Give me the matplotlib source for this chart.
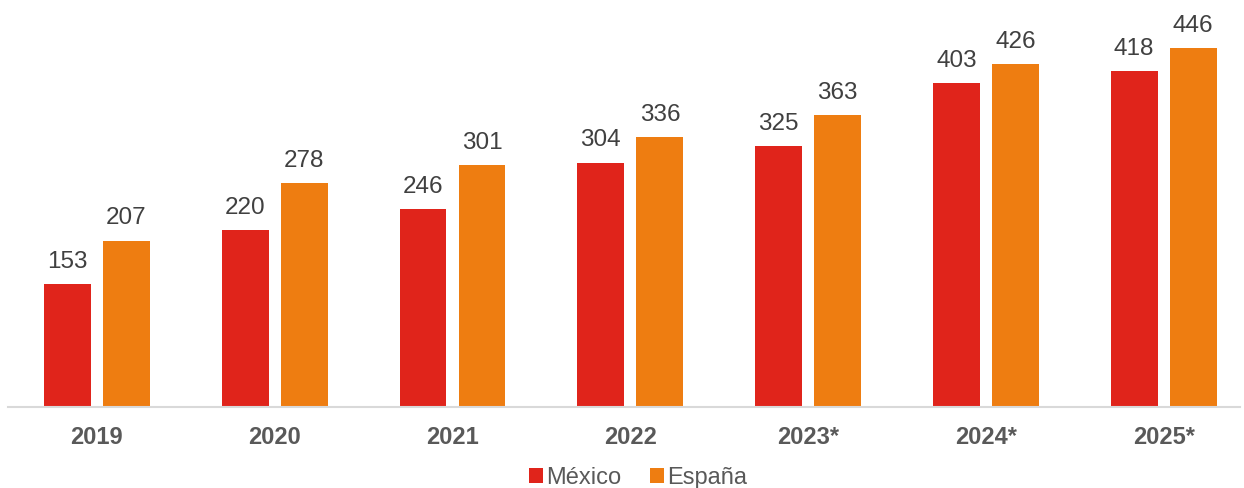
import numpy as np
import matplotlib.pyplot as plt

years = ['2019', '2020', '2021', '2022', '2023*', '2024*', '2025*']
mexico = [153, 220, 246, 304, 325, 403, 418]
espana = [207, 278, 301, 336, 363, 426, 446]

plt.rc("font", family="Liberation Sans")

fig = plt.figure(figsize=(12.44, 4.88), dpi=100)
xmin, xmax = -0.5, 6.43
ax = fig.add_axes([8 / 1244, 81 / 488, ((xmax - xmin) * 177.8) / 1244, 407 / 488])

x = np.arange(len(years))
w = 0.264
off = 0.166
b1 = ax.bar(x - off, mexico, w, color='#E0241B', label='México')
b2 = ax.bar(x + off, espana, w, color='#EE7D11', label='España')

for bars, vals in ((b1, mexico), (b2, espana)):
    for r, v in zip(bars, vals):
        ax.annotate(str(v), (r.get_x() + r.get_width() / 2, r.get_height()),
                    xytext=(0, 8), textcoords='offset points',
                    ha='center', va='bottom', fontsize=17.5, color='#404040')

ax.set_xlim(xmin, xmax)
ax.set_ylim(0, 407 / 0.804)
ax.set_xticks(x)
ax.set_xticklabels(years, fontsize=17, fontweight='bold', color='#595959')
ax.tick_params(axis='x', length=0, pad=14)
ax.set_yticks([])
for s in ['top', 'right', 'left']:
    ax.spines[s].set_visible(False)
ax.spines['bottom'].set_color('#D9D9D9')
ax.spines['bottom'].set_linewidth(1.5)

fig.legend(handles=[b1, b2], loc='center', bbox_to_anchor=(0.513, 0.02),
           ncol=2, frameon=False, fontsize=17, handlelength=0.6, handleheight=0.6,
           handletextpad=0.15, columnspacing=1.2, labelcolor='#595959')

fig.savefig('out.png', dpi=100)
